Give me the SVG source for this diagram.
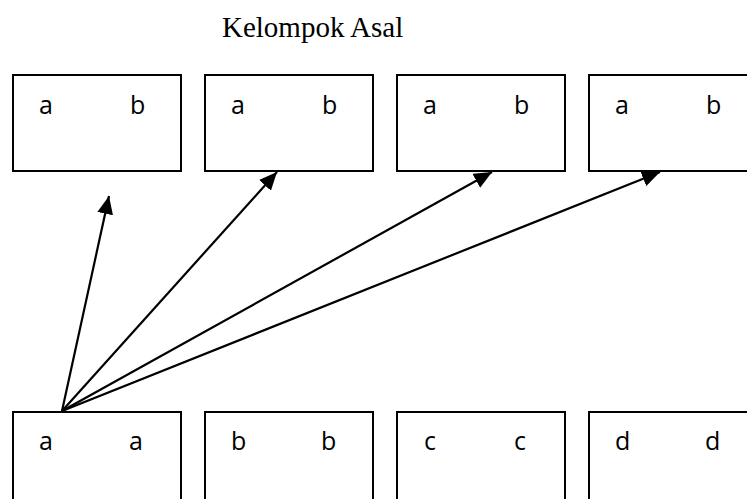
<svg xmlns="http://www.w3.org/2000/svg" width="747" height="499" viewBox="0 0 747 499">
  <style>
    .box { fill: #ffffff; stroke: #000000; stroke-width: 2; }
    .lbl { font-family: "Open Sans", "Liberation Sans", sans-serif; font-size: 25px; fill: #000000; }
    .title { font-family: "Liberation Serif", "Times New Roman", serif; font-size: 29px; fill: #000000; }
    .arrow { stroke: #000000; stroke-width: 2.2; fill: none; marker-end: url(#head); }
  </style>
  <defs>
    <marker id="head" markerUnits="userSpaceOnUse" markerWidth="19" markerHeight="16" refX="18" refY="8" orient="auto">
      <path d="M0,0 L18,8 L0,16 Z" fill="#000000"/>
    </marker>
  </defs>

  <rect width="747" height="499" fill="#ffffff"/>

  <text class="title" x="222" y="37">Kelompok Asal</text>

  <!-- home groups (top row) -->
  <g id="asal-1">
    <rect class="box" x="13" y="75" width="168" height="96"/>
    <text class="lbl" x="39" y="114">a</text>
    <text class="lbl" x="130" y="114">b</text>
  </g>
  <g id="asal-2">
    <rect class="box" x="205" y="75" width="168" height="96"/>
    <text class="lbl" x="231" y="114">a</text>
    <text class="lbl" x="322" y="114">b</text>
  </g>
  <g id="asal-3">
    <rect class="box" x="397" y="75" width="168" height="96"/>
    <text class="lbl" x="423" y="114">a</text>
    <text class="lbl" x="514" y="114">b</text>
  </g>
  <g id="asal-4">
    <rect class="box" x="589" y="75" width="168" height="96"/>
    <text class="lbl" x="615" y="114">a</text>
    <text class="lbl" x="706" y="114">b</text>
  </g>

  <!-- expert groups (bottom row) -->
  <g id="ahli-a">
    <rect class="box" x="13" y="412" width="168" height="110"/>
    <text class="lbl" x="39" y="450">a</text>
    <text class="lbl" x="129" y="450">a</text>
  </g>
  <g id="ahli-b">
    <rect class="box" x="205" y="412" width="168" height="110"/>
    <text class="lbl" x="231" y="450">b</text>
    <text class="lbl" x="321" y="450">b</text>
  </g>
  <g id="ahli-c">
    <rect class="box" x="397" y="412" width="168" height="110"/>
    <text class="lbl" x="424" y="450">c</text>
    <text class="lbl" x="514" y="450">c</text>
  </g>
  <g id="ahli-d">
    <rect class="box" x="589" y="412" width="168" height="110"/>
    <text class="lbl" x="615" y="450">d</text>
    <text class="lbl" x="705" y="450">d</text>
  </g>

  <!-- connectors -->
  <g id="connectors">
    <line class="arrow" x1="62" y1="411" x2="109" y2="196"/>
    <line class="arrow" x1="62" y1="411" x2="277" y2="172"/>
    <line class="arrow" x1="62" y1="411" x2="492" y2="172"/>
    <line class="arrow" x1="62" y1="411" x2="660" y2="172"/>
  </g>
</svg>
